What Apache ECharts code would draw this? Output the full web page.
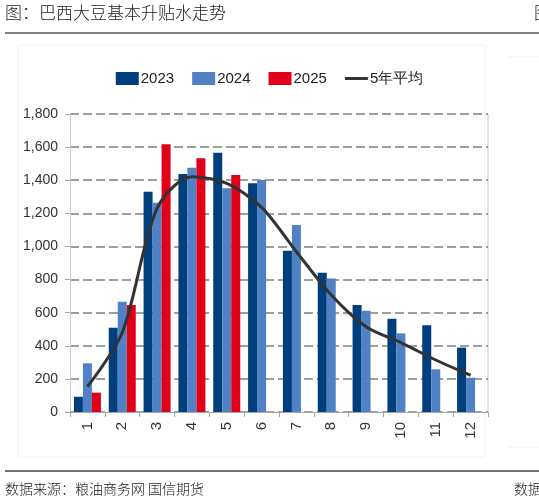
<!DOCTYPE html>
<html>
<head>
<meta charset="utf-8">
<script src="https://cdn.jsdelivr.net/npm/echarts@6/dist/echarts.min.js"></script>
<style>
html,body{margin:0;padding:0;background:#fff;}
#c{width:539px;height:504px;}
</style>
</head>
<body>
<div id="c"></div>
<script>
const months = ['1','2','3','4','5','6','7','8','9','10','11','12'];
const s2023 = [92, 509, 1331, 1438, 1566, 1381, 974, 841, 646, 564, 524, 389];
const s2024 = [294, 666, 1264, 1476, 1351, 1401, 1129, 807, 612, 475, 258, 207];
const s2025 = [117, 646, 1617, 1532, 1431, null, null, null, null, null, null, null];
const avg5 = [153, 480, 1230, 1421, 1381, 1236, 968, 707, 515, 419, 314, 222];
const yTicks = {min: 0, max: 1800, interval: 200};

const narrow = "'Liberation Sans Narrow','Arial Narrow','Liberation Sans',Arial,sans-serif";
const cjk = "'Noto Sans CJK SC',sans-serif";

const chart = echarts.init(document.getElementById('c'), null, {renderer: 'canvas'});
chart.setOption({
  backgroundColor: '#fff',
  animation: false,
  graphic: [
    {type: 'text', left: 5, top: 4, style: {text: '图：巴西大豆基本升贴水走势', font: '300 17px ' + cjk, fill: '#222'}},
    {type: 'text', left: 534, top: 4, style: {text: '图：', font: '300 17px ' + cjk, fill: '#222'}},
    {type: 'line', shape: {x1: 5, y1: 33, x2: 539, y2: 33}, style: {stroke: '#7f7f7f', lineWidth: 2}},
    {type: 'rect', shape: {x: 18, y: 45, width: 467, height: 412}, style: {fill: 'none', stroke: '#f2f2f2', lineWidth: 1}},
    {type: 'line', shape: {x1: 508, y1: 57, x2: 539, y2: 57}, style: {stroke: '#eeeeee', lineWidth: 1}},
    {type: 'line', shape: {x1: 508, y1: 447, x2: 539, y2: 447}, style: {stroke: '#eeeeee', lineWidth: 1}},
    {type: 'line', shape: {x1: 5, y1: 471, x2: 539, y2: 471}, style: {stroke: '#444', lineWidth: 1.5}},
    {type: 'text', left: 5, top: 482, style: {text: '数据来源：粮油商务网 国信期货', font: '300 14px ' + cjk, fill: '#222'}},
    {type: 'text', left: 514, top: 482, style: {text: '数据来源', font: '300 14px ' + cjk, fill: '#222'}},
    {type: 'line', shape: {x1: 488, y1: 114, x2: 488, y2: 412}, style: {stroke: '#c8c8c8', lineWidth: 1}}
  ],
  legend: {
    top: 66,
    left: 'center',
    itemWidth: 23,
    itemHeight: 13,
    itemGap: 18,
    textStyle: {fontFamily: narrow, fontSize: 15, color: '#222', padding: [0, 0, 0, -3]},
    data: [
      {name: '2023', icon: 'rect'},
      {name: '2024', icon: 'rect'},
      {name: '2025', icon: 'rect'},
      {name: '5年平均', icon: 'path://M0,0H100V13H0Z', itemStyle: {color: '#333'}}
    ]
  },
  grid: {left: 70, right: 51, top: 114, bottom: 92, containLabel: false},
  xAxis: {
    type: 'category',
    data: months,
    boundaryGap: true,
    axisLine: {lineStyle: {color: '#a6a6a6', width: 1}},
    axisTick: {show: true, length: 5, alignWithLabel: false, lineStyle: {color: '#a6a6a6'}},
    axisLabel: {rotate: 90, fontFamily: "'Liberation Sans',Arial,sans-serif", fontSize: 15, color: '#333', margin: 10, interval: 0}
  },
  yAxis: {
    type: 'value',
    min: yTicks.min, max: yTicks.max, interval: yTicks.interval,
    axisLine: {show: true, lineStyle: {color: '#c8c8c8', width: 1}},
    axisTick: {show: true, length: 5, inside: false, lineStyle: {color: '#a6a6a6'}},
    axisLabel: {
      fontFamily: narrow, fontSize: 14, color: '#333', margin: 12,
      formatter: v => v.toLocaleString('en-US')
    },
    splitLine: {show: true, lineStyle: {color: '#7f7f7f', width: 1.5, type: [9, 4]}}
  },
  series: [
    {name: '2023', type: 'bar', data: s2023, barWidth: 9, barGap: '0%', itemStyle: {color: '#003F7D'}},
    {name: '2024', type: 'bar', data: s2024, barWidth: 9, barGap: '0%', itemStyle: {color: '#4F81C4'}},
    {name: '2025', type: 'bar', data: s2025, barWidth: 9, barGap: '0%', itemStyle: {color: '#E0001A'}},
    {name: '5年平均', type: 'line', data: avg5, smooth: 0.3, symbol: 'none', showSymbol: false, lineStyle: {color: '#333', width: 3}, itemStyle: {color: '#333'}, z: 5}
  ]
});
</script>
</body>
</html>
